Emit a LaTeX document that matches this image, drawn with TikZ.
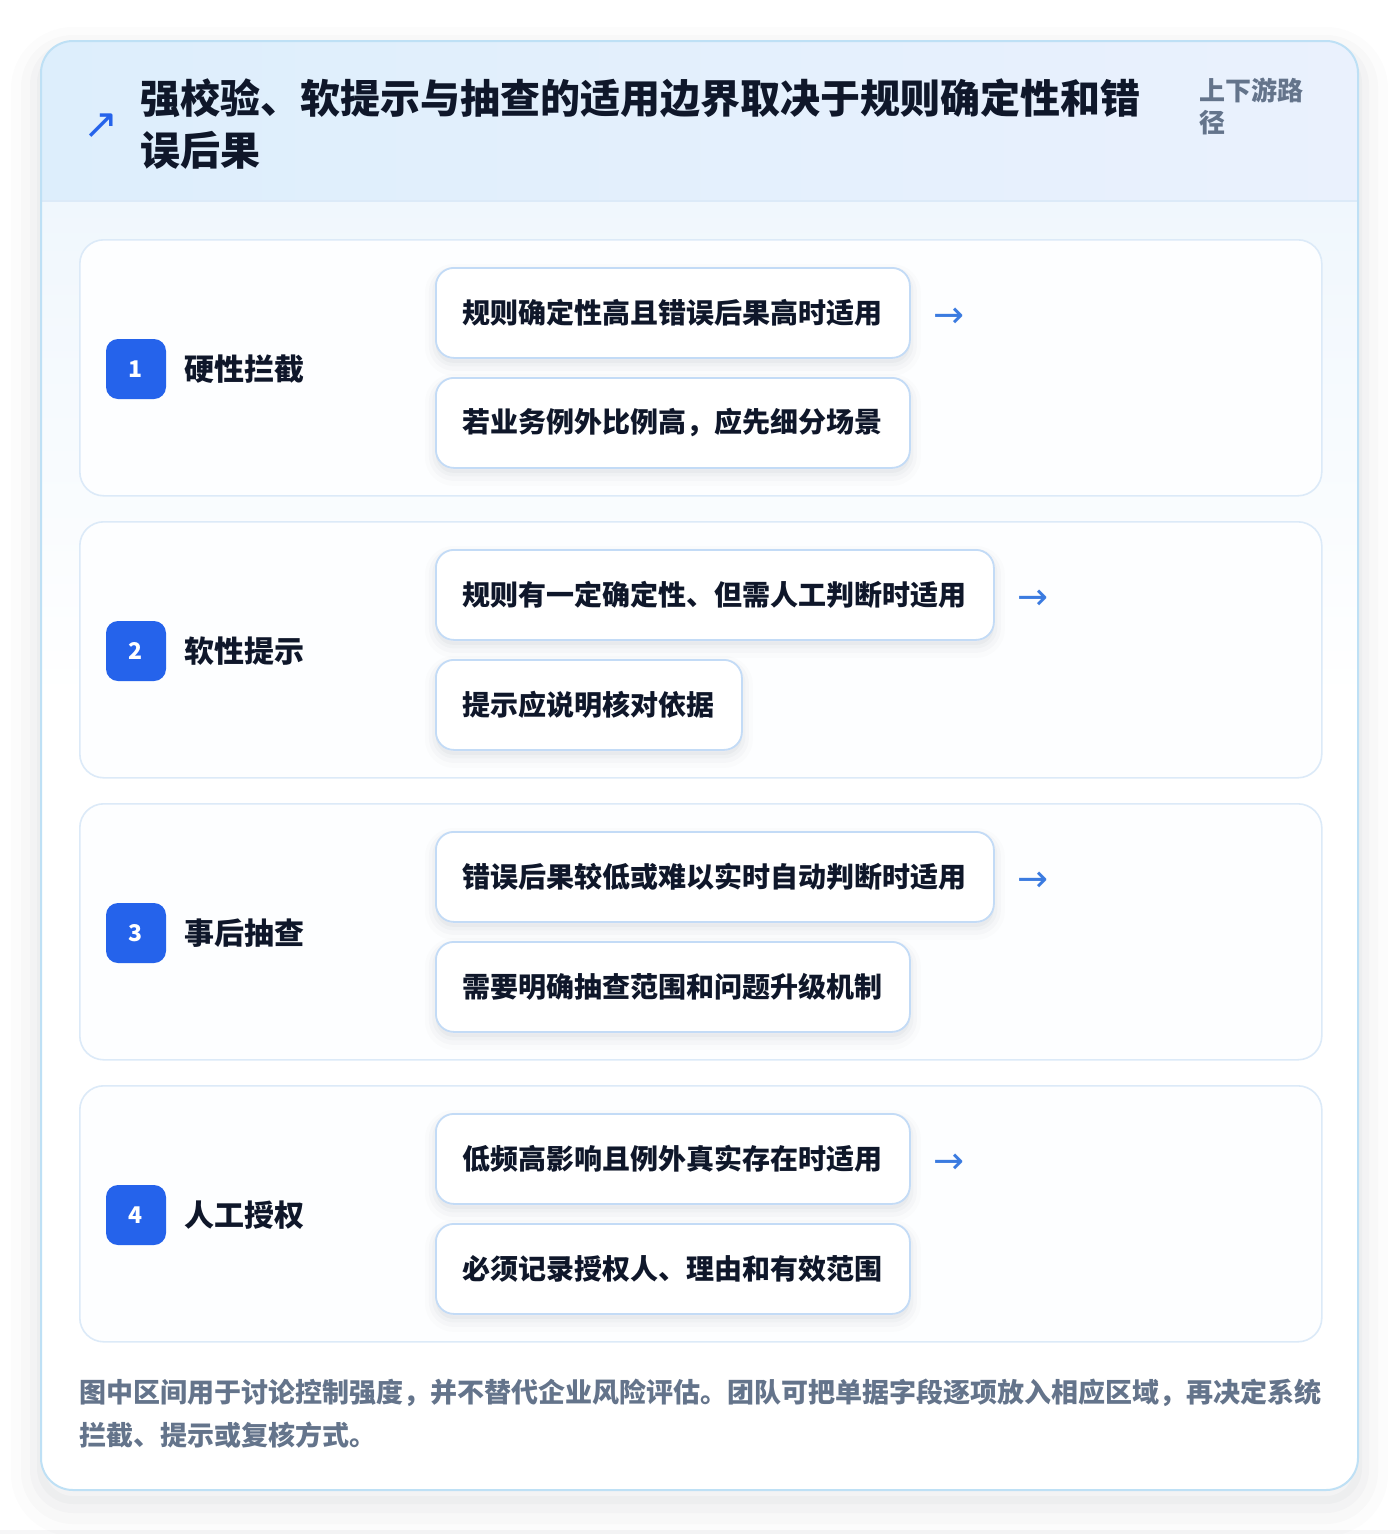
\documentclass[tikz,border=0pt]{standalone}
\usepackage{fontspec}
\setmainfont{Noto Sans CJK SC}
\newfontfamily\symfont{DejaVu Sans}
\definecolor{brandblue}{HTML}{2563EB}
\definecolor{arrowblue}{HTML}{3B7BE0}
\definecolor{inkdark}{HTML}{0F172A}
\definecolor{slategray}{HTML}{64748B}
\definecolor{cardline}{HTML}{BEE0F5}
\definecolor{headleft}{HTML}{DDEEFC}
\definecolor{headright}{HTML}{EAF1FD}
\definecolor{bodytop}{HTML}{F0F7FD}
\definecolor{secline}{HTML}{DCEAF8}
\definecolor{itemline}{HTML}{C3DBF6}
\definecolor{secfill}{HTML}{FDFEFF}
\definecolor{shadowcol}{HTML}{1E293B}
\tikzset{
  softshadow/.style={
    preaction={draw=shadowcol, draw opacity=0.012, line width=22pt, transform canvas={yshift=-7pt}},
    preaction={draw=shadowcol, draw opacity=0.018, line width=14pt, transform canvas={yshift=-6pt}},
    preaction={draw=shadowcol, draw opacity=0.022, line width=7pt, transform canvas={yshift=-5pt}},
    preaction={fill=shadowcol, fill opacity=0.03, transform canvas={yshift=-5pt}}},
  cardshadow/.style={
    preaction={draw=shadowcol, draw opacity=0.010, line width=60pt, transform canvas={yshift=-16pt}},
    preaction={draw=shadowcol, draw opacity=0.014, line width=40pt, transform canvas={yshift=-14pt}},
    preaction={draw=shadowcol, draw opacity=0.018, line width=22pt, transform canvas={yshift=-12pt}},
    preaction={draw=shadowcol, draw opacity=0.022, line width=8pt, transform canvas={yshift=-10pt}}},
  secbox/.style={draw=secline, line width=1.6pt, fill=secfill, rounded corners=24pt,
    minimum width=1242pt, minimum height=256pt, anchor=north west, inner sep=0pt},
  itembox/.style={draw=itemline, line width=1.8pt, fill=white, rounded corners=18pt,
    minimum height=90pt, inner xsep=27pt, inner ysep=0pt, anchor=north west,
    text=inkdark, font=\bfseries\fontsize{28}{34}\selectfont, softshadow},
  badge/.style={fill=brandblue, rounded corners=12pt, minimum size=60pt, inner sep=0pt,
    text=white, font=\bfseries\fontsize{23}{26}\selectfont},
  seclabel/.style={anchor=west, inner sep=0pt, text=inkdark, font=\bfseries\fontsize{30}{36}\selectfont},
  arrowtxt/.style={anchor=west, inner sep=0pt, text=arrowblue, font=\symfont\fontsize{37}{40}\selectfont},
  titletxt/.style={anchor=west, inner sep=0pt, text=inkdark, font=\bfseries\fontsize{40}{52}\selectfont},
  sidetxt/.style={anchor=west, inner sep=0pt, text=slategray, font=\bfseries\fontsize{26}{32}\selectfont},
  foottxt/.style={anchor=west, inner sep=0pt, text=slategray, font=\bfseries\fontsize{27}{32}\selectfont},
}
\begin{document}
\begin{tikzpicture}[x=1pt,y=-1pt]
\useasboundingbox (0,0) rectangle (1400,1534);
\fill[white] (0,0) rectangle (1400,1534);
\fill[shadowcol, opacity=0.04] (0,1530) rectangle (1400,1534);
% card with shadow
\path[fill=white, rounded corners=32pt, cardshadow] (41,41) rectangle (1358,1490);
\begin{scope}
  \clip[rounded corners=32pt] (41,41) rectangle (1358,1490);
  \shade[left color=headleft, right color=headright] (41,41) rectangle (1358,201);
  \shade[top color=bodytop, bottom color=white] (41,201) rectangle (1358,700);
  \fill[white] (41,700) rectangle (1358,1490);
  \draw[secline, line width=1.6pt] (41,201) -- (1358,201);
\end{scope}
\draw[cardline, line width=2pt, rounded corners=32pt] (41,41) rectangle (1358,1490);

% header
\node[anchor=center, inner sep=0pt, text=brandblue, font=\symfont\fontsize{42}{44}\selectfont] (harrow) at (101,126) {↗};
\node[titletxt] (title1) at (140,98) {强校验、软提示与抽查的适用边界取决于规则确定性和错};
\node[titletxt] (title2) at (140,150) {误后果};
\node[sidetxt] (side1) at (1199,90) {上下游路};
\node[sidetxt] (side2) at (1199,123) {径};

% section 1
\node[secbox] (sec1) at (79,239) {};
\node[badge] (b1) at (136,369) {1};
\node[seclabel] (l1) at (184,369) {硬性拦截};
\node[itembox] (s1a) at (435,267) {规则确定性高且错误后果高时适用};
\node[itembox] (s1b) at (435,377) {若业务例外比例高，应先细分场景};
\node[arrowtxt] (s1arr) at ([xshift=22pt,yshift=-5pt]s1a.east) {→};

% section 2
\node[secbox] (sec2) at (79,521) {};
\node[badge] (b2) at (136,651) {2};
\node[seclabel] (l2) at (184,651) {软性提示};
\node[itembox] (s2a) at (435,549) {规则有一定确定性、但需人工判断时适用};
\node[itembox] (s2b) at (435,659) {提示应说明核对依据};
\node[arrowtxt] (s2arr) at ([xshift=22pt,yshift=-5pt]s2a.east) {→};

% section 3
\node[secbox] (sec3) at (79,803) {};
\node[badge] (b3) at (136,933) {3};
\node[seclabel] (l3) at (184,933) {事后抽查};
\node[itembox] (s3a) at (435,831) {错误后果较低或难以实时自动判断时适用};
\node[itembox] (s3b) at (435,941) {需要明确抽查范围和问题升级机制};
\node[arrowtxt] (s3arr) at ([xshift=22pt,yshift=-5pt]s3a.east) {→};

% section 4
\node[secbox] (sec4) at (79,1085) {};
\node[badge] (b4) at (136,1215) {4};
\node[seclabel] (l4) at (184,1215) {人工授权};
\node[itembox] (s4a) at (435,1113) {低频高影响且例外真实存在时适用};
\node[itembox] (s4b) at (435,1223) {必须记录授权人、理由和有效范围};
\node[arrowtxt] (s4arr) at ([xshift=22pt,yshift=-5pt]s4a.east) {→};

% footer
\node[foottxt] (foot1) at (79,1393) {图中区间用于讨论控制强度，并不替代企业风险评估。团队可把单据字段逐项放入相应区域，再决定系统};
\node[foottxt] (foot2) at (79,1435) {拦截、提示或复核方式。};
\end{tikzpicture}
\end{document}
